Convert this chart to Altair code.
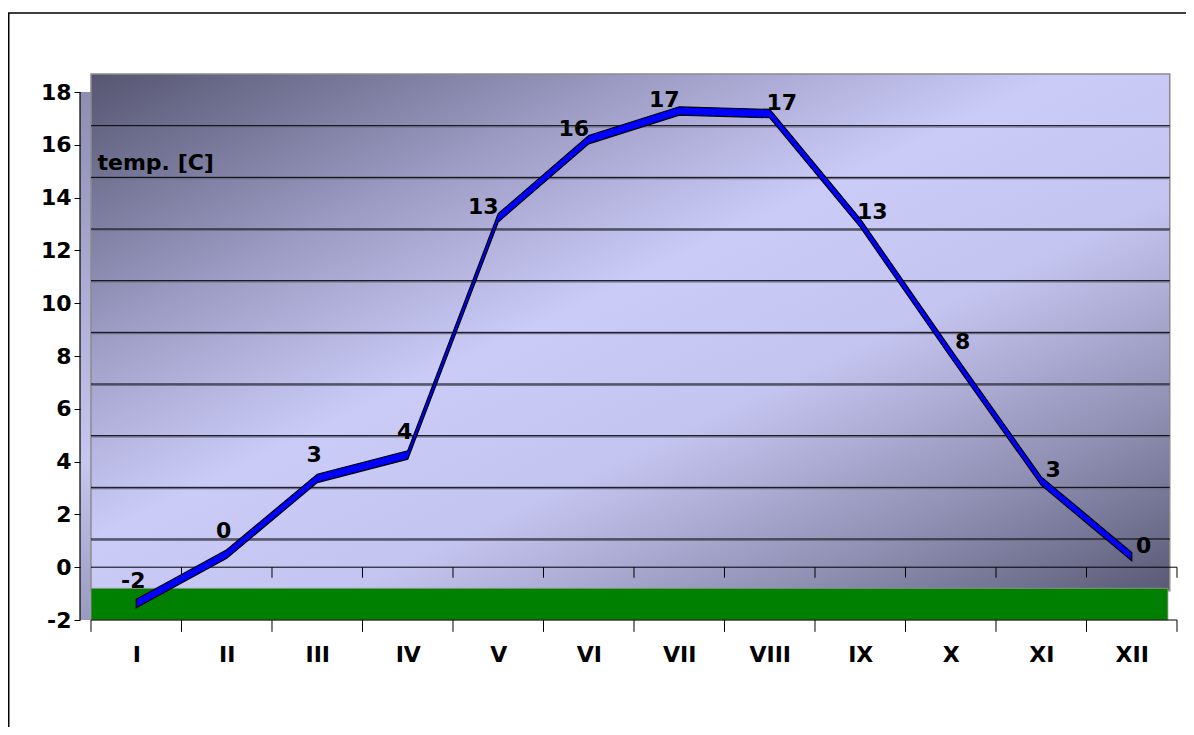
import json
import altair as alt
import pandas as pd

# ---------------- data ----------------
months = ["I", "II", "III", "IV", "V", "VI", "VII", "VIII", "IX", "X", "XI", "XII"]
temps = [-1.9, 0.0, 2.9, 3.8, 12.9, 15.9, 17.0, 16.9, 12.7, 7.7, 2.8, -0.1]
labels = [str(round(t)) for t in temps]
y_ticks = list(range(-2, 20, 2))
grid_levels = list(range(0, 18, 2))
bounds = list(range(0, 13))

FONT = "DejaVu Sans"
FS = 22

line_df = pd.DataFrame({
    "pos": [i + 0.5 for i in range(len(months))],
    "month": months,
    "temp": temps,
    "label": labels,
    "idx": list(range(len(months))),
})

# ---------------- scales ----------------
x_sc = alt.Scale(domain=[-0.1215, 12], nice=False, zero=False)
y_front = alt.Scale(domain=[-2, 18.72], nice=False, zero=False)
y_back = alt.Scale(domain=[-3.136, 18.04], nice=False, zero=False)
y_line = alt.Scale(domain=[-2.533, 18.457], nice=False, zero=False)


def XQ(f, **kw):
    return alt.X(f, type="quantitative", scale=x_sc, axis=None, **kw)


# frame around the chart area
frame = alt.Chart(alt.Data(values=[{}])).mark_rect(
    fill="transparent", stroke="black", strokeWidth=1.5
).encode(
    x=alt.value(-71.25), x2=alt.value(1300), y=alt.value(-60), y2=alt.value(900)
)

# left side panel of the 3-D box
side = alt.Chart(pd.DataFrame({"a": [-0.1215], "b": [0.0], "c": [-2], "d": [18]})).mark_rect(
    fill=alt.Gradient(gradient="linear",
                      stops=[alt.GradientStop(color="#8e8eb4", offset=0),
                             alt.GradientStop(color="#c6c6f0", offset=0.7),
                             alt.GradientStop(color="#9a9ac0", offset=1)],
                      x1=0, y1=0, x2=0, y2=1)
).encode(
    x=XQ("a"), x2="b",
    y=alt.Y("c:Q", scale=y_front, axis=None), y2="d"
)

# back wall with gradient
wall = alt.Chart(pd.DataFrame({"a": [0.0], "b": [11.92], "c": [-2], "d": [18]})).mark_rect(
    fill=alt.Gradient(gradient="linear",
                      stops=[alt.GradientStop(color="#565672", offset=0),
                             alt.GradientStop(color="#9a9ac2", offset=0.25),
                             alt.GradientStop(color="#cbcbf8", offset=0.45),
                             alt.GradientStop(color="#c4c4f0", offset=0.62),
                             alt.GradientStop(color="#9090b4", offset=0.82),
                             alt.GradientStop(color="#5a5a76", offset=1)],
                      x1=0, y1=0, x2=1, y2=1),
    stroke="#8c8c8c", strokeWidth=1.5
).encode(
    x=XQ("a"), x2="b",
    y=alt.Y("c:Q", scale=y_back, axis=None), y2="d"
)

grid_df = pd.DataFrame({"lvl": grid_levels, "a": [0.0] * len(grid_levels), "b": [11.92] * len(grid_levels)})
grid_shadow = alt.Chart(grid_df).transform_calculate(
    sh="datum.lvl - 0.05"
).mark_rule(color="#6e6e88", strokeWidth=1.2).encode(
    x=XQ("a"), x2="b", y=alt.Y("sh:Q", scale=y_back, axis=None)
)
grid = alt.Chart(grid_df).mark_rule(color="black", strokeWidth=1).encode(
    x=XQ("a"), x2="b", y=alt.Y("lvl:Q", scale=y_back, axis=None)
)

# green floor
floor = alt.Chart(pd.DataFrame({"a": [0.0], "b": [11.9], "c": [-2], "d": [-0.8]})).mark_rect(
    fill="#008000", stroke="#9a9a9a", strokeWidth=0.8
).encode(
    x=XQ("a"), x2="b",
    y=alt.Y("c:Q", scale=y_front, axis=None), y2="d"
)

# category axis line at 0 with ticks
zero_line = alt.Chart(pd.DataFrame({"a": [0.0], "b": [12.0], "c": [0]})).mark_rule(
    color="black", strokeWidth=1
).encode(x=XQ("a"), x2="b", y=alt.Y("c:Q", scale=y_front, axis=None))

zero_ticks = alt.Chart(pd.DataFrame({"p": bounds[1:], "c": [0] * 12, "d": [-0.4] * 12})).mark_rule(
    color="black", strokeWidth=1
).encode(x=XQ("p"), y=alt.Y("c:Q", scale=y_front, axis=None), y2="d")

# front axis line with month labels
front_line = alt.Chart(pd.DataFrame({"a": [0.0], "b": [12.0], "c": [-2]})).mark_rule(
    color="black", strokeWidth=1.2
).encode(
    x=alt.X("a:Q", scale=x_sc,
            axis=alt.Axis(values=[i + 0.5 for i in range(12)],
                          labelExpr=json.dumps(months) + "[floor(datum.value)]",
                          ticks=False, tickSize=0, domain=False, grid=False,
                          labelPadding=24, labelFont=FONT, labelFontSize=FS,
                          labelFontWeight="bold", labelColor="black",
                          title=None, orient="bottom", zindex=1)),
    x2="b",
    y=alt.Y("c:Q", scale=y_front, axis=None)
)

front_ticks = alt.Chart(pd.DataFrame({"p": bounds, "c": [-2] * 13, "d": [-2.45] * 13})).mark_rule(
    color="black", strokeWidth=1
).encode(x=XQ("p"), y=alt.Y("c:Q", scale=y_front, axis=None), y2="d")

# value axis (front)
y_axis_line = alt.Chart(pd.DataFrame({"a": [-0.1215], "c": [-2], "d": [18]})).mark_rule(
    color="black", strokeWidth=1.2
).encode(
    x=XQ("a"),
    y=alt.Y("c:Q", scale=y_front,
            axis=alt.Axis(values=y_ticks, labelExpr="datum.value + ''",
                          domain=False, grid=False, ticks=True, tickSize=6,
                          tickColor="black", labelPadding=3,
                          labelFont=FONT, labelFontSize=FS, labelFontWeight="bold",
                          labelColor="black", orient="left", zindex=1,
                          title="temp. [C]", titleAngle=0, titleX=17, titleY=89,
                          titleAlign="left", titleBaseline="middle",
                          titleFont=FONT, titleFontSize=FS, titleFontWeight="bold",
                          titleColor="black")),
    y2="d"
)

# ribbon line (3-D band centred on the value)
ribbon = alt.Chart(line_df).transform_calculate(
    lo="datum.temp - 0.16", hi="datum.temp + 0.16"
).mark_area(fill="#0000ff", stroke="black", strokeWidth=1.2).encode(
    x=XQ("pos"),
    y=alt.Y("lo:Q", scale=y_line, axis=None),
    y2="hi:Q",
)


def value_labels(cond, dx, dy):
    return alt.Chart(line_df).transform_filter(cond).mark_text(
        font=FONT, fontSize=FS, fontWeight="bold", color="black", dx=dx, dy=dy
    ).encode(x=XQ("pos"), y=alt.Y("temp:Q", scale=y_line, axis=None), text="label:N")


lab_a = value_labels("datum.idx < 4", -3, -23)
lab_b = value_labels("datum.idx >= 4 && datum.idx < 7", -15, -11)
lab_c = value_labels("datum.idx >= 7", 12, -11)

chart = alt.layer(
    frame, side, wall, grid_shadow, grid, floor, zero_line, zero_ticks,
    front_line, front_ticks, y_axis_line, ribbon, lab_a, lab_b, lab_c
).resolve_scale(y="independent").resolve_axis(x="independent").properties(
    width=1097, height=547,
    autosize=alt.AutoSizeParams(type="none"),
    padding={"left": 72, "top": 65, "right": 9, "bottom": 107},
    background="white"
).configure_view(stroke=None)

chart.save("out.html", embed_options={"renderer": "svg", "actions": False})
